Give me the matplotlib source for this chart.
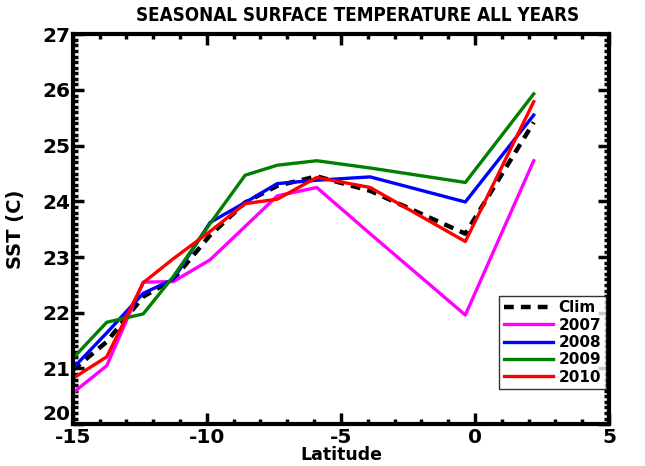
import matplotlib
matplotlib.use("Agg")
import matplotlib.pyplot as plt
from matplotlib.ticker import MultipleLocator

lat = [-15.0, -13.73, -12.37, -11.25, -9.88, -8.57, -7.37, -5.90, -3.91, -0.36, 2.19]
clim = [20.97, 21.48, 22.29, 22.60, 23.39, 23.98, 24.28, 24.45, 24.19, 23.42, 25.42]
y2007 = [20.56, 21.05, 22.55, 22.56, 22.95, 23.55, 24.10, 24.25, 23.42, 21.96, 24.73]
y2008 = [21.00, 21.64, 22.35, 22.60, 23.62, 23.98, 24.32, 24.38, 24.44, 23.99, 25.55]
y2009 = [21.18, 21.83, 21.98, 22.65, 23.60, 24.47, 24.65, 24.73, 24.60, 24.34, 25.93]
y2010 = [20.82, 21.21, 22.54, 22.97, 23.46, 23.96, 24.04, 24.43, 24.25, 23.28, 25.79]

xticks = [-15, -10, -5, 0, 5]
yticks = [20, 21, 22, 23, 24, 25, 26, 27]
labels = ["Clim", "2007", "2008", "2009", "2010"]
title = "SEASONAL SURFACE TEMPERATURE ALL YEARS"

fig = plt.figure(figsize=(6.45, 4.66), dpi=100)
ax = fig.add_axes([0.1127, 0.0897, 0.8316, 0.8367])

ax.plot(lat, clim, color="black", lw=3.2, ls=(0, (2.2, 1.6)), label=labels[0])
ax.plot(lat, y2007, color="#ff00ff", lw=2.4, label=labels[1])
ax.plot(lat, y2008, color="#0000ff", lw=2.4, label=labels[2])
ax.plot(lat, y2009, color="#007f00", lw=2.4, label=labels[3])
ax.plot(lat, y2010, color="#ff0000", lw=2.4, label=labels[4])

ax.set_xlim(-15, 5)
ax.set_ylim(20, 27)
ax.set_xticks(xticks)
ax.set_yticks(yticks)
ax.set_xticklabels([str(v) for v in xticks])
ax.set_yticklabels([str(v) for v in yticks])
ax.xaxis.set_minor_locator(MultipleLocator(1))
ax.yaxis.set_minor_locator(MultipleLocator(0.1))
ax.tick_params(which="both", direction="in", top=True, right=True, width=2.5)
ax.tick_params(which="major", length=8, labelsize=14.5)
ax.tick_params(axis="x", which="major", pad=3)
ax.tick_params(axis="y", which="major", pad=2)
ax.tick_params(which="minor", length=3.5)
for lab in ax.get_xticklabels() + ax.get_yticklabels():
    lab.set_fontweight("bold")
ax.get_yticklabels()[0].set_verticalalignment("bottom")
for s in ax.spines.values():
    s.set_linewidth(3)

fig.text(0.555, 0.966, title, ha="center", va="center", fontsize=13.5,
         fontweight="bold", fontstretch="condensed")
ax.set_xlabel("Latitude", fontsize=12.5, fontweight="bold")
ax.xaxis.label.set_verticalalignment("center")
ax.xaxis.set_label_coords(0.5, -0.079)
ax.set_ylabel("SST (C)", fontsize=14, fontweight="bold", labelpad=12)

leg = ax.legend(loc="lower left", bbox_to_anchor=(0.795, 0.09), frameon=True,
                fancybox=False, edgecolor="black", fontsize=11, handlelength=3.2,
                handletextpad=0.4, labelspacing=0.15, borderpad=0.3,
                borderaxespad=0)
leg.get_frame().set_linewidth(1.0)
for t in leg.get_texts():
    t.set_fontweight("bold")

fig.savefig("out.png", dpi=100)
